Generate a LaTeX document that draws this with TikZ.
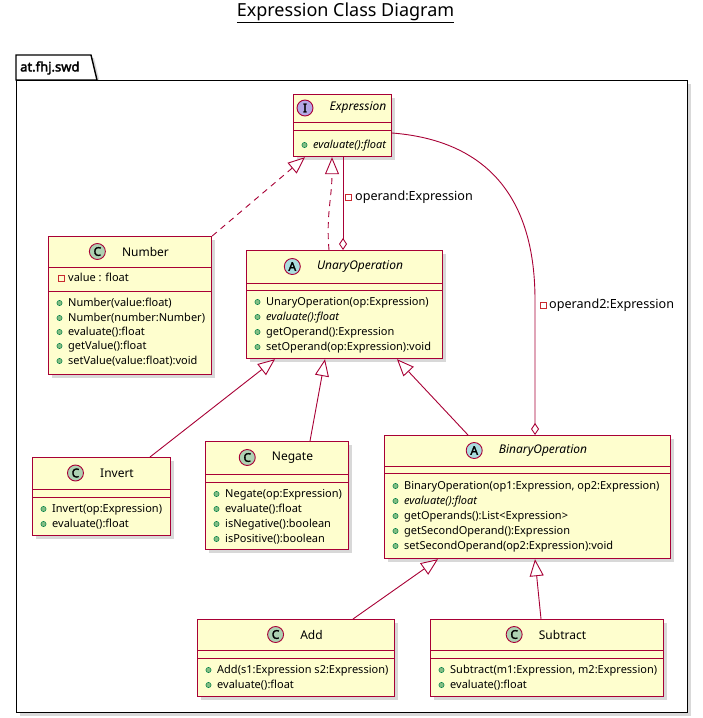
\documentclass[tikz,border=0pt]{standalone}
\usepackage{fontspec}
\setmainfont{Noto Sans}
\newfontfamily\fbold{Noto Sans}[FakeBold=2.5]
\usetikzlibrary{arrows.meta,shadows,calc}
\definecolor{umlred}{HTML}{A80036}
\definecolor{umlfill}{HTML}{FEFECE}
\definecolor{iconC}{HTML}{ADD1B2}
\definecolor{iconA}{HTML}{A9DCDF}
\definecolor{iconI}{HTML}{B4A7E5}
\definecolor{pubfill}{HTML}{84BE84}
\definecolor{pubdraw}{HTML}{038048}
\definecolor{privred}{HTML}{C82930}
\tikzset{
  umlbox/.style={draw=umlred, fill=umlfill, line width=1.2pt, inner sep=0pt,
    drop shadow={shadow xshift=3pt, shadow yshift=-3pt, opacity=0.3}},
  umlline/.style={draw=umlred, line width=1pt},
  conn/.style={draw=umlred, line width=0.9pt},
  genarrow/.style={-{Triangle[fill=white, length=17pt, width=14pt, line width=0.9pt]}},
  aggarrow/.style={-{Diamond[fill=white, length=12pt, width=8pt, line width=0.9pt]}},
  realdash/.style={dash pattern=on 6pt off 5pt},
  icon/.style={circle, draw=umlred, line width=0.9pt, minimum size=16pt, inner sep=0pt,
    font=\fbold\fontsize{12}{12}\selectfont},
  cname/.style={font=\fontsize{12}{14}\selectfont, inner sep=0pt},
  member/.style={anchor=west, font=\fontsize{11}{13}\selectfont, inner sep=0pt, text height=8pt, text depth=2pt},
  pubdot/.style={fill=pubfill, draw=pubdraw, line width=0.5pt},
  privsq/.style={draw=privred, line width=0.8pt},
  pkgbox/.style={draw=black, fill=white, line width=1.4pt,
    drop shadow={shadow xshift=3pt, shadow yshift=-3pt, opacity=0.3}},
  lbl/.style={anchor=west, font=\fontsize{12.6}{14}\selectfont, inner sep=0pt, text height=8pt, text depth=2pt},
}
% #1 name, #2 L, #3 T, #4 R, #5 B, #6 h1, #7 h2
\newcommand\classbox[7]{%
  \node[umlbox, anchor=north west, minimum width={#4-#2}, minimum height={#5-#3}] (#1) at (#2,#3) {};
  \draw[umlline] (#2,#6) -- (#4,#6);
  \draw[umlline] (#2,#7) -- (#4,#7);
}
% #1 name-node, #2 x centre, #3 y, #4 letter, #5 colour, #6 text
\newcommand\classhead[6]{%
  \node[cname] (#1) at (#2+16,#3) {#6};
  \node[icon, fill=#5] at ($(#1.west)+(-24.5,0)$) {#4};
}
% #1 L, #2 y, #3 text
\newcommand\pubm[3]{%
  \fill[pubdot] (#1+11.5,#2) circle (2.6pt);
  \node[member] at (#1+20,#2) {#3};
}
\newcommand\privm[3]{%
  \draw[privsq] (#1+10,#2-3) rectangle (#1+16,#2+3);
  \node[member] at (#1+20,#2) {#3};
}
\begin{document}
\begin{tikzpicture}[x=1pt,y=-1pt]
\useasboundingbox (0,0) rectangle (702,718);
% title
\node[font=\fontsize{18}{20}\selectfont, inner sep=0pt] (title) at (345.5,13) {\underline{Expression Class Diagram}};
% package
\draw[pkgbox] (16,80) -- (16,55) -- (91,55) -- (97,80) -- cycle;
\node[pkgbox, anchor=north west, minimum width=671pt, minimum height=632pt, inner sep=0pt] (pkg) at (16,80) {};
\node[anchor=west, inner sep=0pt, font=\fbold\fontsize{13}{15}\selectfont] (pkgname) at (20,68) {at.fhj.swd};

% Expression
\classbox{expr}{293}{94}{391}{156}{122}{130}
\classhead{exprname}{342}{108}{I}{iconI}{\itshape Expression}
\pubm{293}{145}{\itshape evaluate():float}

% Number
\classbox{num}{48}{236}{211}{374}{267}{291}
\classhead{numname}{129.5}{251.5}{C}{iconC}{Number}
\privm{48}{278}{value : float}
\pubm{48}{303}{Number(value:float)}
\pubm{48}{318}{Number(number:Number)}
\pubm{48}{332}{evaluate():float}
\pubm{48}{346}{getValue():float}
\pubm{48}{361}{setValue(value:float):void}

% UnaryOperation
\classbox{unary}{246}{250}{442}{358}{283}{290}
\classhead{unaryname}{344}{266.5}{A}{iconA}{\itshape UnaryOperation}
\pubm{246}{302}{UnaryOperation(op:Expression)}
\pubm{246}{317}{\itshape evaluate():float}
\pubm{246}{332}{getOperand():Expression}
\pubm{246}{347}{setOperand(op:Expression):void}

% Invert
\classbox{inv}{32}{457}{170}{535}{489}{497}
\classhead{invname}{101}{473}{C}{iconC}{Invert}
\pubm{32}{509}{Invert(op:Expression)}
\pubm{32}{524}{evaluate():float}

% Negate
\classbox{neg}{205}{441}{348}{549}{474}{482}
\classhead{negname}{276.5}{457.5}{C}{iconC}{Negate}
\pubm{205}{494}{Negate(op:Expression)}
\pubm{205}{509}{evaluate():float}
\pubm{205}{524}{isNegative():boolean}
\pubm{205}{539}{isPositive():boolean}

% BinaryOperation
\classbox{bin}{384}{435}{670}{558}{466}{473}
\classhead{binname}{527}{450.5}{A}{iconA}{\itshape BinaryOperation}
\pubm{384}{486}{BinaryOperation(op1:Expression, op2:Expression)}
\pubm{384}{501}{\itshape evaluate():float}
\pubm{384}{516}{getOperands():List<Expression>}
\pubm{384}{531}{getSecondOperand():Expression}
\pubm{384}{546}{setSecondOperand(op2:Expression):void}

% Add
\classbox{add}{197}{619}{394}{696}{650}{658}
\classhead{addname}{295.5}{634.5}{C}{iconC}{Add}
\pubm{197}{670}{Add(s1:Expression s2:Expression)}
\pubm{197}{685}{evaluate():float}

% Subtract
\classbox{sub}{430}{619}{663}{696}{650}{658}
\classhead{subname}{546.5}{634.5}{C}{iconC}{Subtract}
\pubm{430}{670}{Subtract(m1:Expression, m2:Expression)}
\pubm{430}{685}{evaluate():float}

% realizations
\draw[conn, realdash, genarrow] (num.north east) -- ($(expr.south west)+(12,0)$);
\draw[conn, realdash, genarrow] ($(unary.north west)+(83,0)$) .. controls +(-3,-35) and +(0,40) .. ($(expr.south west)+(39,0)$);
% aggregations
\draw[conn, aggarrow] ($(expr.south west)+(50,0)$) -- ($(unary.north west)+(97,0)$);
\draw[privsq] (345,194) rectangle (351,200);
\node[lbl] (lab1) at (355,197) {operand:Expression};
\draw[conn, aggarrow] ($(expr.north east)+(0,39)$) .. controls (480,140) and (535,190) .. (535,300) -- ($(bin.north west)+(151,0)$);
\draw[privsq] (540,302) rectangle (546,308);
\node[lbl] (lab2) at (549,305) {operand2:Expression};
% generalizations
\draw[conn, genarrow] ($(inv.north west)+(118,0)$) -- ($(unary.south west)+(29,0)$);
\draw[conn, genarrow] ($(neg.north west)+(105,0)$) -- ($(unary.south west)+(79,0)$);
\draw[conn, genarrow] ($(bin.north west)+(84,0)$) -- ($(unary.south west)+(151,0)$);
\draw[conn, genarrow] ($(add.north west)+(156,0)$) -- ($(bin.south west)+(54,0)$);
\draw[conn, genarrow] ($(sub.north west)+(111,0)$) -- ($(bin.south west)+(151,0)$);
\end{tikzpicture}
\end{document}
